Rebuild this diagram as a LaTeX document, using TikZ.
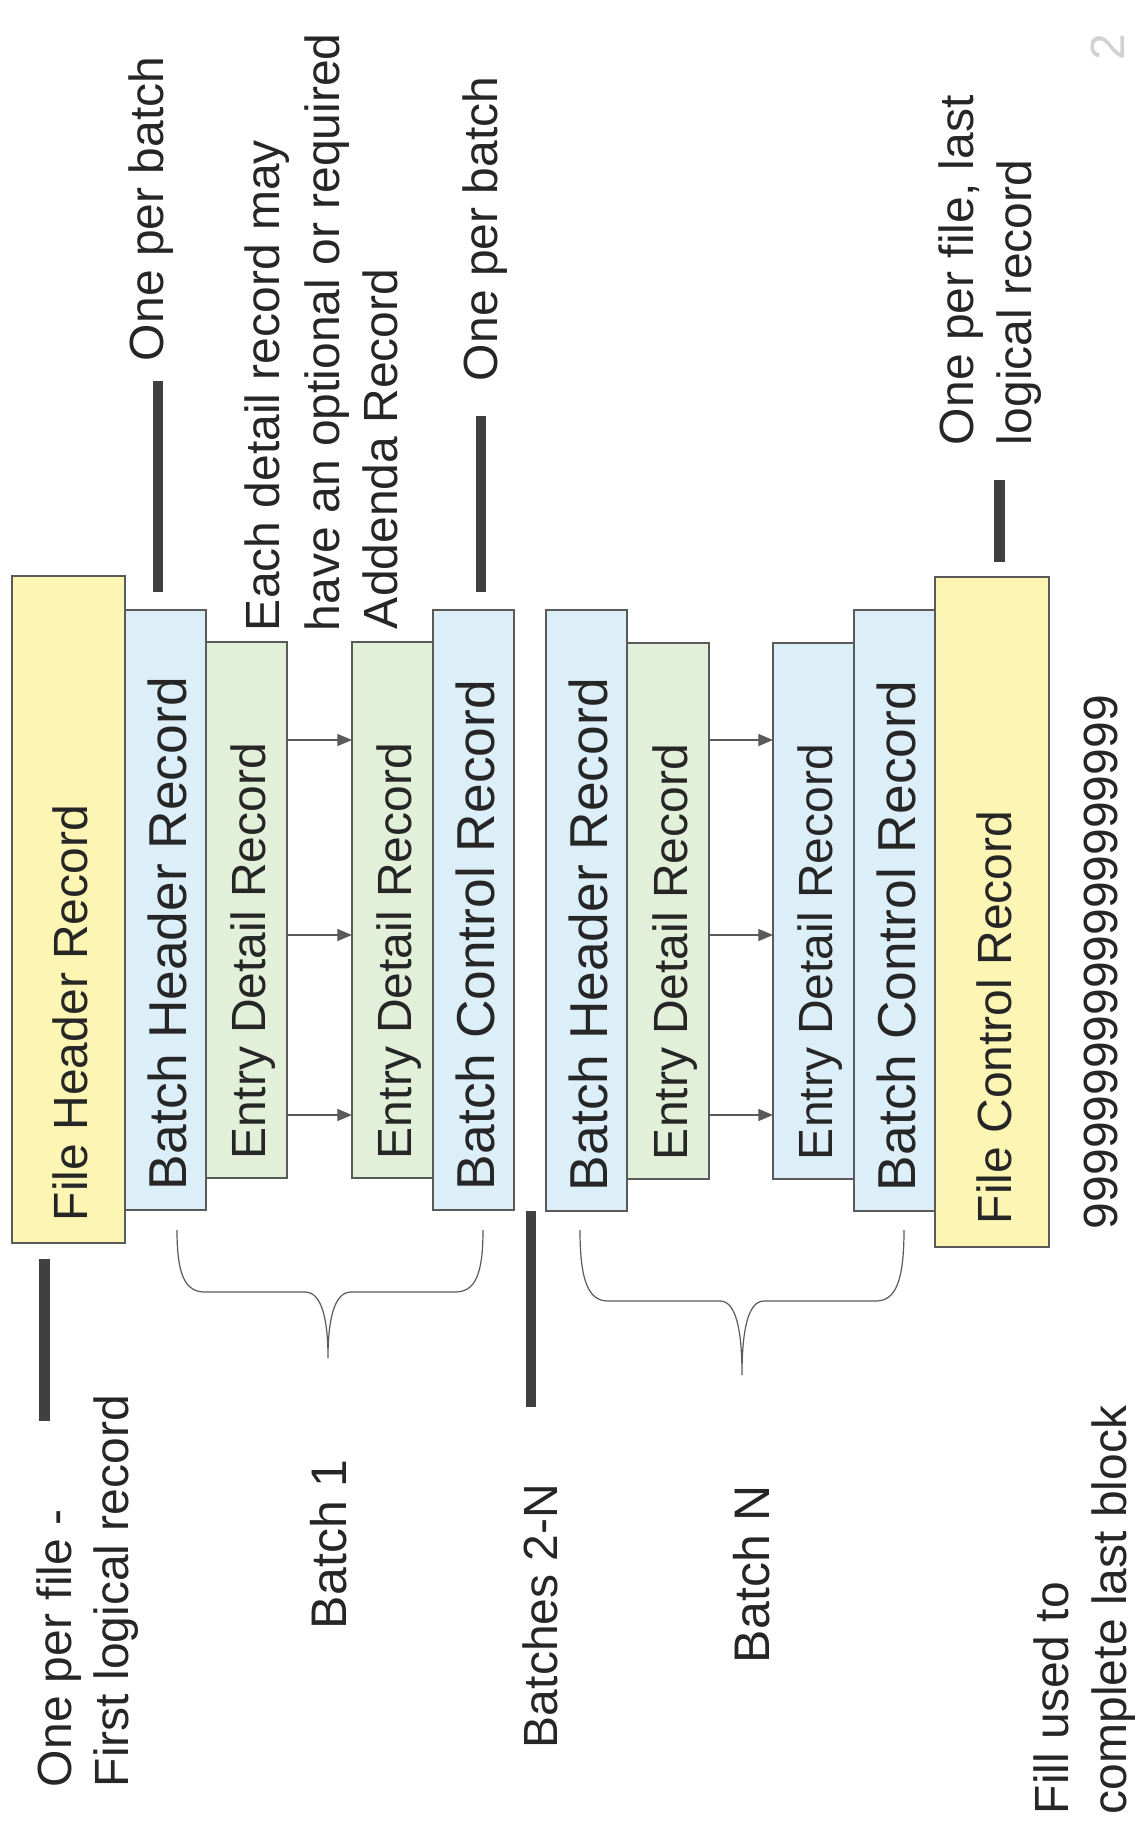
\documentclass[tikz,border=0pt]{standalone}
\usepackage{fontspec}
\setmainfont{Liberation Sans}
\usetikzlibrary{fit,arrows.meta}
\definecolor{yel}{HTML}{FDF5B4}
\definecolor{blu}{HTML}{DCEEF8}
\definecolor{grn}{HTML}{E2EFD9}
\definecolor{edge}{HTML}{5A5A5A}
\definecolor{ink}{HTML}{262626}
\definecolor{barc}{HTML}{404040}
\begin{document}
\begin{tikzpicture}[x=0.75pt,y=-0.75pt,
  rec/.style={draw=edge, line width=0.9pt, inner sep=0pt, outer sep=0pt},
  rt/.style={rotate=90, anchor=base west, inner sep=0pt, outer sep=0pt, text=ink, font=\fontsize{36}{43}\selectfont},
  rtb/.style={rt, font=\fontsize{40}{48}\selectfont},
  rtl/.style={rt, font=\fontsize{37.5}{45}\selectfont},
  arr/.style={draw=edge, line width=0.9pt, -{Triangle[length=11pt,width=9pt]}},
  markbar/.style={draw=barc, line width=8pt},
  brace/.style={draw=edge, line width=0.9pt},
]
\fill[white, use as bounding box] (0,0) rectangle (1135,1821);

% record boxes
\node[rec, fill=yel, fit={(12,576) (125,1243)}] (fh) {};
\node[rec, fill=blu, fit={(125,610) (206,1210)}] (bh1) {};
\node[rec, fill=grn, fit={(206,642) (287,1178)}] (ed1) {};
\node[rec, fill=grn, fit={(352,642) (433,1178)}] (ed2) {};
\node[rec, fill=blu, fit={(433,610) (514,1210)}] (bc1) {};
\node[rec, fill=blu, fit={(546,610) (627,1211)}] (bh2) {};
\node[rec, fill=grn, fit={(627,643) (709,1179)}] (ed3) {};
\node[rec, fill=blu, fit={(773,643) (854,1179)}] (ed4) {};
\node[rec, fill=blu, fit={(854,610) (935,1211)}] (bc2) {};
\node[rec, fill=yel, fit={(935,577) (1049,1247)}] (fc) {};

% box labels
\node[rt]  (fht)  at (87,1221)  {File Header Record};
\node[rtb] (bh1t) at (186,1190) {Batch Header Record};
\node[rt]  (ed1t) at (265,1159) {Entry Detail Record};
\node[rt]  (ed2t) at (411,1159) {Entry Detail Record};
\node[rtb] (bc1t) at (494,1190) {Batch Control Record};
\node[rtb] (bh2t) at (607,1191) {Batch Header Record};
\node[rt]  (ed3t) at (687,1160) {Entry Detail Record};
\node[rt]  (ed4t) at (832,1160) {Entry Detail Record};
\node[rtb] (bc2t) at (915,1191) {Batch Control Record};
\node[rt]  (fct)  at (1011,1224) {File Control Record};

% arrows between detail records
\coordinate (ya) at (0,740);
\coordinate (yb) at (0,935);
\coordinate (yc) at (0,1115);
\foreach \y in {ya,yb,yc}{
  \draw[arr] (ed1.east |- \y) -- (ed2.west |- \y);
  \draw[arr] (ed3.east |- \y) -- (ed4.west |- \y);
}

% marker bars
\draw[markbar] (158,381) -- (158,592);
\draw[markbar] (481,416) -- (481,592);
\draw[markbar] (44.5,1259) -- (44.5,1421);
\draw[markbar] (531,1211) -- (531,1407);
\draw[markbar] (999.5,480) -- (999.5,562);

% braces
\draw[brace] (177,1230) .. controls (177,1275) and (185,1292) .. (205,1292) -- (305,1292)
  .. controls (322,1292) and (328,1320) .. (328,1358)
  .. controls (328,1320) and (334,1292) .. (351,1292) -- (455,1292)
  .. controls (475,1292) and (483,1275) .. (483,1230);
\draw[brace] (580,1230) .. controls (580,1280) and (588,1301) .. (608,1301) -- (720,1301)
  .. controls (736,1301) and (742,1330) .. (742,1375)
  .. controls (742,1330) and (748,1301) .. (764,1301) -- (876,1301)
  .. controls (896,1301) and (904,1280) .. (904,1230);

% annotations
\node[rt] (a1)   at (163,361)  {One per batch};
\node[rt] (a2l1) at (279,631)  {Each detail record may};
\node[rt] (a2l2) at (339,631)  {have an optional or required};
\node[rt] (a2l3) at (397,629)  {Addenda Record};
\node[rt] (a3)   at (497,381)  {One per batch};
\node[rt] (a4l1) at (973,445)  {One per file, last};
\node[rt] (a4l2) at (1031,445) {logical record};
\node[rt] (a5l1) at (71,1787)  {One per file -};
\node[rt] (a5l2) at (128,1787) {First logical record};
\node[rtl] (b1)  at (346,1629) {Batch 1};
\node[rt] (b2n)  at (557,1748) {Batches 2-N};
\node[rtl] (bn)  at (769,1663) {Batch N};
\node[rt] (f1)   at (1068,1814) {Fill used to};
\node[rt] (f2)   at (1126,1814) {complete last block};
\node[rt] (nines) at (1117,1229) {99999999999999999999};
\node[rt, text=black!18] (pg) at (1124,60) {2};
\end{tikzpicture}
\end{document}
